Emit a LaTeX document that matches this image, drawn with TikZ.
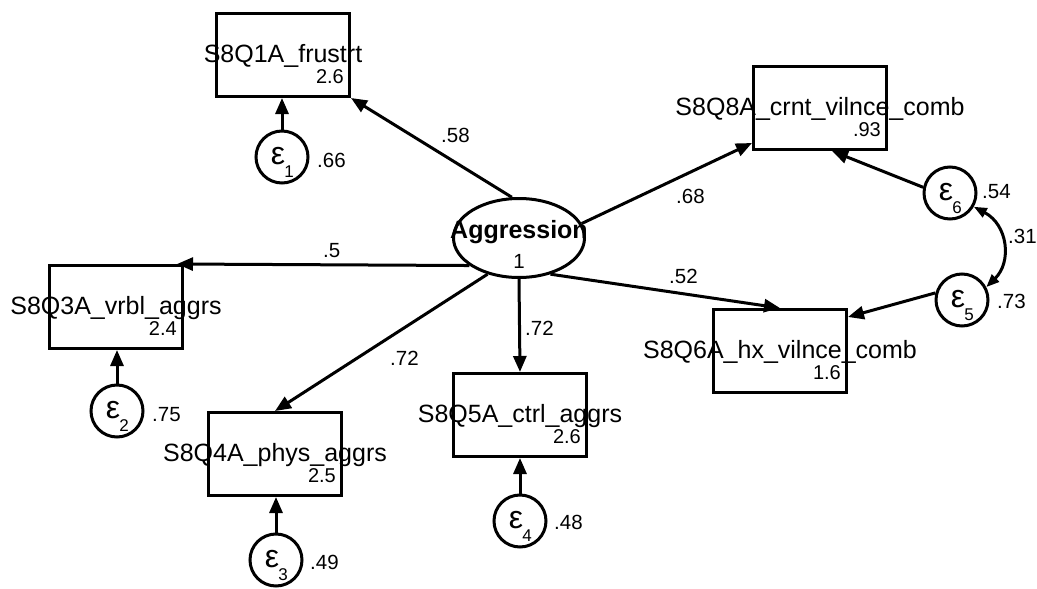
\documentclass[tikz,border=0pt]{standalone}
\usepackage{fontspec}
\setmainfont{Liberation Sans}
\usetikzlibrary{arrows.meta,calc,shapes.geometric}
\begin{document}
\begin{tikzpicture}[x=1pt,y=-1pt,
  box/.style={draw,line width=3pt,minimum width=133pt,minimum height=83pt,inner sep=0pt},
  lat/.style={draw,ellipse,line width=3pt,minimum width=131pt,minimum height=79pt,inner sep=0pt},
  errc/.style={draw,circle,line width=3pt,minimum size=52pt,inner sep=0pt},
  lbl/.style={font=\fontsize{25}{30}\selectfont,anchor=base,inner sep=0pt},
  num/.style={font=\fontsize{20}{24}\selectfont,anchor=base east,inner sep=0pt},
  pl/.style={font=\fontsize{20.5}{24}\selectfont,anchor=base west,inner sep=0pt},
  eps/.style={font=\fontsize{32}{36}\selectfont,inner sep=0pt},
  epssub/.style={font=\fontsize{17}{20}\selectfont,anchor=base,inner sep=0pt},
  arr/.style={line width=3pt,-{Triangle[length=16pt,width=13pt]}},
  cov/.style={line width=3pt,{Triangle[length=13pt,width=10pt]}-{Triangle[length=13pt,width=10pt]}}
]
\useasboundingbox (0,0) rectangle (1037,589);

% observed variables
\node[box] (b1) at (283,55) {};
\node[box] (b8) at (820,108) {};
\node[box] (b6) at (780,351) {};
\node[box] (b3) at (116,307) {};
\node[box] (b4) at (275,454) {};
\node[box] (b5) at (520,415) {};

\node[lbl] (t1) at ($(b1.south)+(0,-36)$) {S8Q1A\_frustrt};
\node[num] (n1) at ($(b1.south east)+(-7,-15)$) {2.6};
\node[lbl] (t8) at ($(b8.south)+(0,-36)$) {S8Q8A\_crnt\_vilnce\_comb};
\node[num] (n8) at ($(b8.south east)+(-7,-15)$) {.93};
\node[lbl] (t6) at ($(b6.south)+(0,-36)$) {S8Q6A\_hx\_vilnce\_comb};
\node[num] (n6) at ($(b6.south east)+(-7,-15)$) {1.6};
\node[lbl] (t3) at ($(b3.south)+(0,-36)$) {S8Q3A\_vrbl\_aggrs};
\node[num] (n3) at ($(b3.south east)+(-7,-15)$) {2.4};
\node[lbl] (t4) at ($(b4.south)+(0,-36)$) {S8Q4A\_phys\_aggrs};
\node[num] (n4) at ($(b4.south east)+(-7,-15)$) {2.5};
\node[lbl] (t5) at ($(b5.south)+(0,-36)$) {S8Q5A\_ctrl\_aggrs};
\node[num] (n5) at ($(b5.south east)+(-7,-15)$) {2.6};

% latent variable
\node[lat] (agg) at (519,238) {};
\node[lbl,font=\bfseries\fontsize{25}{30}\selectfont] (ta) at (519,238) {Aggression};
\node[lbl,font=\fontsize{20.5}{24}\selectfont] (na) at (519,268) {1};

% error terms
\node[errc] (e1) at (282,157) {};
\node[errc] (e2) at (117,411) {};
\node[errc] (e3) at (276,560) {};
\node[errc] (e4) at (520,521) {};
\node[errc] (e5) at (962,300) {};
\node[errc] (e6) at (950,193) {};

\foreach \e/\k in {e1/1,e2/2,e3/3,e4/4,e5/5,e6/6}{
  \node[eps] (g\k) at ($(\e)+(-4,-1)$) {ε};
  \node[epssub] (s\k) at ($(\e)+(7,20)$) {\k};
}

\node[pl] (v1) at ($(e1)+(35,10)$) {.66};
\node[pl] (v2) at ($(e2)+(35,10)$) {.75};
\node[pl] (v3) at ($(e3)+(34,9)$) {.49};
\node[pl] (v4) at ($(e4)+(34,8)$) {.48};
\node[pl] (v5) at ($(e5)+(35,8)$) {.73};
\node[pl] (v6) at ($(e6)+(32,5)$) {.54};

% loadings
\draw[arr] (agg.100) -- (b1.south east);
\draw[arr] (agg.13) -- ($(b8.south west)+(0,-8)$);
\draw[arr] (agg.209) -- ($(b3.north east)+(-7,0)$);
\draw[arr] (agg.-49) -- (b6.north);
\draw[arr] (agg.229) -- (b4.north);
\draw[arr] (agg.south) -- (b5.north);

\node[pl] (l1) at (441,142) {.58};
\node[pl] (l8) at (676,203) {.68};
\node[pl] (l3) at (323,257) {.5};
\node[pl] (l6) at (669,283) {.52};
\node[pl] (l4) at (390,365) {.72};
\node[pl] (l5) at (525,335) {.72};

% error paths
\draw[arr] (e1.north) -- (e1.north |- b1.south);
\draw[arr] (e2.north) -- (e2.north |- b3.south);
\draw[arr] (e3.north) -- (e3.north |- b4.south);
\draw[arr] (e4.north) -- (e4.north |- b5.south);
\draw[arr] (e6.168) -- ($(b8.south)+(12,0)$);
\draw[arr] (e5.165) -- ($(b6.north east)+(0,9)$);

% covariance
\draw[cov] (e6.-30) .. controls (1008,225) and (1012,262) .. (e5.28);
\node[pl] (c56) at (1008,243) {.31};
\end{tikzpicture}
\end{document}
